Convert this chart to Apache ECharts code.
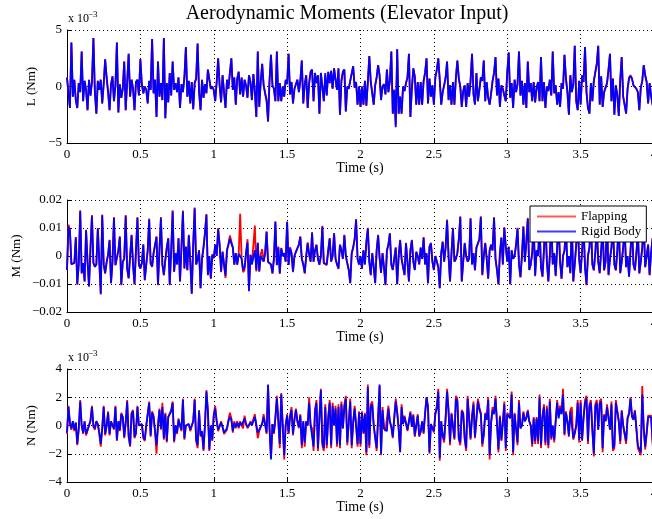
<!DOCTYPE html>
<html>
<head>
<meta charset="utf-8">
<script src="https://cdn.jsdelivr.net/npm/echarts@6/dist/echarts.min.js"></script>
<style>
  html, body { margin: 0; padding: 0; background: #fff; }
  #chart { width: 652px; height: 519px; }
</style>
</head>
<body>
<div id="chart"></div>
<script>
// Sampling interval of the recorded moments (s)
const SAMPLE_STEP = 0.01;

// Rolling moment L, in units of 1e-3 Nm
const L_flapping = [
  0.8, -0.6, -1.9, 3.9, -0.9, 0.6, -1.2, -1.9, 0.3, -0.5,
  3.1, -1.3, 0.5, -0.3, -2.1, 0.6, -0.8, 0.4, 4.3, -0.5,
  -2.4, 0.5, -0.3, 0.6, -1.5, 0.2, 2.4, 0.8, -0.5, -2.1,
  0.2, 0.9, -1.3, 0.1, 3.9, -2.3, 0.2, -1.0, -0.2, 2.2,
  -2.1, 0.4, 2.9, -0.9, 0.6, -0.2, -2.1, 0.4, 0.6, -0.8,
  2.4, 0.2, -0.6, 0.0, -0.3, -1.5, 0.5, -0.3, 4.2, -0.6,
  0.6, -2.7, 2.2, -0.9, 0.3, -1.2, 4.3, -2.8, 0.3, -1.4,
  1.2, -0.8, 2.2, -0.3, 0.3, -0.5, 0.8, -1.9, 0.2, -0.5,
  0.8, 3.5, -0.9, 0.5, -1.5, 0.4, -2.0, 0.3, 0.7, 3.8,
  -0.5, -2.1, 0.6, -1.0, 0.2, -0.6, 1.5, 0.6, -0.2, 0.0,
  -0.3, -1.3, 0.4, 2.5, 0.1, -1.4, 1.0, -0.5, -1.9, 0.6,
  -0.2, 1.2, 2.5, -0.3, 0.8, -1.6, 0.7, 1.3, -0.7, 0.8,
  -0.9, 0.6, 0.1, -1.0, 1.0, 0.4, -1.2, 1.1, -0.4, -2.7,
  3.1, -1.8, 0.4, 2.0, 0.1, -0.6, -1.1, -3.1, 0.5, 2.8,
  0.1, -0.2, -1.3, 3.1, -1.3, 0.3, -1.3, 0.0, -0.9, 0.6,
  0.4, 2.9, -0.7, 0.4, -1.5, -0.2, -0.3, 0.6, -0.5, 0.5,
  2.3, -1.5, 0.2, 1.0, -1.9, 0.3, 1.3, 1.5, -1.3, 1.2,
  0.3, 1.0, -2.4, 1.2, 1.1, -1.3, 1.0, -0.8, 1.3, 0.3,
  1.2, -0.2, 1.6, 0.6, -0.3, 1.6, -2.5, 0.5, 1.3, 1.5,
  -2.2, 0.0, -0.2, 0.5, 0.4, 1.8, -0.1, 0.4, -1.6, 0.0,
  -1.8, 0.0, -1.6, 0.5, -1.7, 0.4, 2.7, 0.4, 0.3, -1.6,
  0.1, 0.8, 1.9, 1.0, -1.2, 0.0, 0.2, -0.7, 1.5, -0.5,
  0.5, 3.1, -2.4, -0.3, -3.4, 3.3, -2.4, -0.9, -2.4, 0.0,
  -0.4, 0.3, 0.8, 2.9, -2.7, -0.2, 1.6, 0.9, -1.6, 0.4,
  -1.6, 0.4, -1.6, 0.5, 1.2, 2.5, -1.5, 0.7, -0.9, 0.1,
  -1.6, 0.8, 1.5, 2.5, 0.6, -1.6, -0.5, 0.1, 0.8, 2.2,
  -1.2, 0.1, -1.6, 0.4, -1.6, 0.8, 2.3, 0.7, 0.0, -1.8,
  -0.4, 0.1, -1.8, 0.3, -0.9, 0.5, 2.9, -0.7, -1.6, 1.2,
  -1.3, -0.3, 0.8, 0.5, 2.3, -1.3, 0.4, -1.0, -1.6, -0.6,
  0.5, 1.2, 2.6, -0.8, 0.7, -1.8, 0.1, -0.2, -0.8, -1.3,
  1.2, 3.0, -1.0, 0.3, -1.9, 0.6, -0.5, 0.2, 3.1, -0.8,
  0.5, -1.6, 0.3, -1.9, 2.2, -0.5, 0.3, -1.3, 0.4, -1.4,
  -0.1, 0.4, -1.3, 2.6, -1.3, 0.4, -1.9, 0.0, -0.4, 0.6,
  -0.8, 3.1, -0.6, 0.1, -1.6, -0.5, -1.8, 0.3, -0.2, 2.8,
  0.7, -0.5, -2.5, 1.0, -0.5, 0.2, 3.6, -1.3, -2.1, 0.5,
  -1.6, 1.0, 0.4, 3.5, -0.5, -1.9, -2.4, 0.3, -1.3, 0.5,
  0.6, 2.0, 3.6, -1.6, 0.9, -1.8, -0.5, -0.5, 0.3, 1.5,
  2.9, -1.3, 0.7, -2.5, 0.1, -0.8, -2.6, 0.6, 2.6, -0.9,
  -1.0, -2.4, -0.2, 0.8, 1.0, 0.7, 0.1, 0.0, -0.2, -0.5,
  -2.1, -0.1, 0.5, 1.9, 1.0, 0.4, -1.5, 0.3, -0.8, -1.6,
  -2.0
];
const L_rigid = [
  0.8, -0.6, -1.9, 3.9, -0.9, 0.6, -1.2, -1.9, 0.3, -0.5,
  3.1, -1.3, 0.5, -0.3, -2.1, 0.6, -0.8, 0.4, 4.3, -0.5,
  -2.4, 0.5, -0.3, 0.6, -1.5, 0.2, 2.4, 0.8, -0.5, -2.1,
  0.2, 0.9, -1.3, 0.1, 3.9, -2.3, 0.2, -1.0, -0.2, 2.2,
  -2.1, 0.4, 2.9, -0.9, 0.6, -0.2, -2.1, 0.4, 0.6, -0.8,
  2.4, 0.2, -0.6, 0.0, -0.3, -1.5, 0.5, -0.3, 4.2, -0.6,
  0.6, -2.7, 2.2, -0.9, 0.3, -1.2, 4.3, -2.8, 0.3, -1.4,
  1.2, -0.8, 2.2, -0.3, 0.3, -0.5, 0.8, -1.9, 0.2, -0.5,
  0.8, 3.5, -0.9, 0.5, -1.5, 0.4, -2.0, 0.3, 0.7, 3.8,
  -0.5, -2.1, 0.6, -1.0, 0.2, -0.6, 1.5, 0.6, -0.2, 0.0,
  -0.3, -1.3, 0.4, 2.5, 0.1, -1.4, 1.0, -0.5, -1.9, 0.6,
  -0.2, 1.2, 2.5, -0.3, 0.8, -1.6, 0.7, 1.3, -0.7, 0.8,
  -0.9, 0.6, 0.1, -1.0, 1.0, 0.4, -1.2, 1.1, -0.4, -2.7,
  3.1, -1.8, 0.4, 2.0, 0.1, -0.6, -1.3, -3.1, 0.5, 2.8,
  0.1, -0.2, -1.3, 3.1, -1.3, 0.3, -1.3, 0.0, -0.9, 0.6,
  0.2, 2.9, -0.7, 0.4, -1.5, -0.2, -0.3, 0.6, -0.5, 0.5,
  2.3, -1.5, 0.2, 1.0, -1.9, 0.3, 1.3, 1.5, -1.3, 1.2,
  0.3, 1.0, -2.4, 1.2, 1.1, -1.3, 1.2, -0.8, 1.3, 0.3,
  1.4, -0.2, 1.6, 0.6, -0.3, 1.6, -2.5, 0.5, 1.3, 1.5,
  -2.2, 0.0, -0.2, 0.5, 0.4, 1.8, -0.1, 0.4, -1.6, 0.0,
  -1.8, 0.0, -1.6, 0.5, -1.7, 0.4, 2.7, 0.4, 0.3, -1.6,
  0.1, 0.8, 1.9, 1.0, -1.2, 0.0, 0.2, -0.7, 1.5, -0.5,
  0.5, 3.1, -2.4, -0.3, -3.6, 3.3, -2.4, -0.9, -2.4, 0.0,
  -0.4, 0.3, 0.8, 2.9, -2.7, -0.2, 1.6, 0.9, -1.6, 0.4,
  -1.6, 0.4, -1.6, 0.5, 1.2, 2.5, -1.5, 0.7, -0.9, 0.1,
  -1.6, 0.8, 1.5, 2.5, 0.6, -1.6, -0.5, 0.1, 0.8, 2.2,
  -1.2, 0.1, -1.6, 0.4, -1.6, 0.8, 2.3, 0.7, 0.0, -1.8,
  -0.4, 0.1, -1.8, 0.3, -0.9, 0.5, 2.9, -0.7, -1.6, 1.2,
  -1.3, -0.3, 0.8, 0.5, 2.3, -1.3, 0.4, -1.0, -1.6, -0.6,
  0.5, 1.2, 2.6, -0.8, 0.7, -1.8, 0.1, -0.2, -0.8, -1.3,
  1.3, 3.0, -1.0, 0.3, -1.9, 0.6, -0.5, 0.2, 3.1, -0.8,
  0.5, -1.6, 0.3, -1.9, 2.2, -0.5, 0.3, -1.3, 0.4, -1.4,
  -0.1, 0.4, -1.3, 2.6, -1.3, 0.4, -1.9, 0.0, -0.4, 0.6,
  -0.8, 3.1, -0.6, 0.1, -1.6, -0.5, -1.8, 0.3, -0.2, 2.8,
  0.7, -0.5, -2.5, 1.0, -0.5, 0.2, 3.6, -1.3, -2.1, 0.5,
  -1.6, 1.0, 0.4, 3.5, -0.5, -1.9, -2.4, 0.3, -1.3, 0.5,
  0.6, 2.0, 3.6, -1.6, 0.9, -1.8, -0.5, -0.5, 0.3, 1.5,
  2.9, -1.3, 0.7, -2.5, 0.1, -0.8, -2.6, 0.6, 2.6, -0.9,
  -1.0, -2.4, -0.2, 0.7, 0.9, 0.7, 0.1, 0.0, -0.2, -0.5,
  -2.1, -0.1, 0.5, 1.9, 1.0, 0.4, -1.5, 0.3, -0.8, -1.6,
  -2.0
];

// Pitching moment M, in units of 1e-3 Nm
const M_flapping = [
  -5, 11.2, 9.3, -3, -3.6, -2.5, 6.8, -10.3, -3, 16.3,
  -6.3, -2.5, -9.2, 9.4, -2, -11, 3, 14.6, -2.5, -3.9,
  -3, 10, -2, -13.7, 14.8, -3, -6.3, -2.2, 0.5, 5.8,
  -9.8, -2, 13.9, -3.3, -2.6, 2, 7, -10.4, -2, -1,
  14.6, -4.6, -8, 0, 7.6, -3, -10.2, 2, 13.9, -3.3,
  -4.5, -2.5, 4.2, -8.7, -3, 2, 13.4, -2.7, -3.9, 1,
  1, 7, -10.4, 2, 13.9, -3, -6.9, -1.4, 3, 6.4,
  -10.4, 2, 16.3, -5.7, 1, -3, 6.4, -9.2, 3, 16.2,
  -4.5, 3.4, -5.2, 7.6, -2, -13.6, 4, 17.3, -3, -1.4,
  2, -11.6, -1, 3, 8.2, 15, -6.9, 0, -8.2, 0.5,
  -0.8, 4.2, 0, 10, 4.2, -5.8, 1.6, -3.1, -7.8, 2,
  4.3, 7.3, 5.2, 3, -3.2, 1, -3.2, 0.8, 15.1, -1,
  -5.8, -5, 1, 6, -12, 0.4, -3, -3.2, 10.9, -5.5,
  4.7, -5.5, 0.5, 2.5, -2, 1, 8.8, -2.2, -2.5, -3,
  -6.3, -1, 12.4, -3.3, 3.4, -6.4, 2.9, 0, 1, -2,
  12.3, -3.2, 3.2, 1, -5.8, 0, 1.5, 2, 4.2, 7,
  -1, -3, -6.3, 0, 4.9, 0.5, -2, 8.6, -2, 2,
  4, -1, -3.2, 0, 10.8, -2.6, -3, -3.3, 2, 6.4,
  -2, 0, 8.2, -1, -3, -4.6, 4, 2, -1, 7.6,
  0, -2.6, -5, -9.8, 1, 3, 6, 13.2, -1, -3,
  0, -4.6, 2, -3, 5, 10.1, -2, -6.9, 1, -4,
  -9.8, 2, 7.6, -0.5, -6, 1, -4, -10.4, 2, 4,
  8.2, -3, -5, -1, 3, -10.2, 0, 5.8, -1, -4,
  -6.9, 4.7, -2, -9.2, 2, 5.8, -2, -5, 1.5, 0,
  -3, 3, -1, 6.8, -3, 1, -9.8, 3.3, 4.7, -2,
  -5, 0, -2, -4, -11.6, 1, 5.2, -2, 3, 13,
  0, -9.2, 1, 10.1, -2, -1, 1, 6, 14.2, -9.2,
  -2, 4.7, 0, -2, -1, 13.6, -3, 1, -5.2, 3,
  3, 6, 14.2, -6.9, 0, 4.7, -1, -8.2, 2, 4,
  2, 13.9, -1, -5, -10.2, 1, 6.7, -3, 10.3, 3.3,
  -2, 3.4, -10.2, 2, -1, 0, 4, 10.1, -3, -7.7,
  0, 10.6, -2, 5, 13.6, -5, -3, 1, 12.2, -7.2,
  2, 0, 11.2, -4, -7.5, 2, 13.2, -2, -9.2, 0,
  13.2, -3, 1, -7.2, 3, 12.2, -2, -8.2, 0, 2,
  10.2, -4, 0, -6.2, 12.2, -9.2, -3, 4, 13.2, -1,
  -6.2, 2, 11.2, -4, -10.4, 0, 3, 12.2, -3, -5.2,
  1, 11.2, -2, -6.2, 2, 10.2, -5.2, -2, 13.2, -6.9,
  -1, 3, 11.2, -3, -5.2, 2, 12.2, -6.2, -2, 3,
  10.2, -4, 0, -7.5, 2, 11.2, -3, -5.2, 1, 9.2,
  -6.3, -2, 3, 12.2, -4, 0, 4.2, -6.9, 1, 6.4,
  -6.9
];
const M_rigid = [
  -5, 10.4, 9, -2.8, -3.5, -2.5, 6.6, -10, -3, 16,
  -6.1, -2.5, -9, 9.2, -2, -10.8, 3, 14.2, -2.5, -3.8,
  -3, 9.8, -2, -13.5, 14.5, -3, -6.1, -2.2, 0.5, 5.6,
  -9.6, -2, 13.6, -3.2, -2.6, 2, 6.8, -10.2, -2, -1,
  14.2, -4.5, -7.9, 0, 7.4, -3, -10, 2, 13.6, -3.2,
  -4.4, -2.5, 4.1, -8.5, -3, 2, 13, -2.6, -3.8, 1,
  1, 6.8, -10.2, 2, 13.5, -3, -6.7, -1.4, 3, 6.2,
  -10.2, 2, 15.9, -5.5, 1, -3, 6.2, -9, 3, 15.9,
  -4.4, 3.3, -5, 7.4, -2, -13.4, 4, 17, -3, -1.4,
  2, -11.4, -1, 3, 8, 14.7, -6.7, 0, -7.9, 0.5,
  -0.8, 4, 0, 9.5, 4, -5.5, 1.5, -3, -7, 2,
  4, 6.2, 4.5, 3, -3, 1, -3, 0.8, 1.5, -1,
  -5, -4, 1, 4.8, -12.6, 0.4, -3, -3.2, 2.1, -5,
  4.7, -5.5, 0, 0.5, -2, 1, 8.6, -2, -2.5, -3,
  -6.1, -1, 12.1, -3.2, 3, -6.1, 2.7, 0, 1, -2,
  12.1, -3.2, 2.7, 1, -5.5, 0, 1.5, 2, 4, 6.8,
  -1, -3, -6, 0, 4.5, 0.5, -2, 8.2, -2, 2,
  4, -1, -3, 0, 10.4, -2.5, -3, -2.9, 2, 6.2,
  -2, 0, 8, -1, -3, -4.4, 4, 2, -1, 7.4,
  0, -2.6, -5, -9.6, 1, 3, 6, 12.9, -1, -3,
  0, -4.4, 2, -3, 5, 9.8, -2, -6.7, 1, -4,
  -9.6, 2, 7.4, -0.5, -6, 1, -4, -10.2, 2, 4,
  8, -3, -5, -1, 3, -10, 0, 5.6, -1, -4,
  -6.7, 4.5, -2, -9, 2, 5.6, -2, -5, 1.5, 0,
  -3, 3, -1, 6.5, -3, 1, -9.6, 3.3, 4.5, -2,
  -5, 0, -2, -4, -11.4, 1, 5, -2, 3, 12.7,
  0, -9, 1, 9.8, -2, -1, 1, 6, 13.9, -9,
  -2, 4.5, 0, -2, -1, 13.3, -3, 1, -5, 3,
  3, 6, 13.9, -6.7, 0, 4.5, -1, -7.9, 2, 4,
  2, 13.6, -1, -5, -10, 1, 6.5, -3, 10, 3.3,
  -2, 3.3, -10, 2, -1, 0, 4, 9.8, -3, -7.5,
  0, 10.4, -2, 5, 13.3, -5, -3, 1, 12, -7,
  2, 0, 11, -4, -7.3, 2, 13, -2, -9, 0,
  13, -3, 1, -7, 3, 12, -2, -8, 0, 2,
  10, -4, 0, -6, 12, -9, -3, 4, 13, -1,
  -6, 2, 11, -4, -10.2, 0, 3, 12, -3, -5,
  1, 11, -2, -6, 2, 10, -5, -2, 13, -6.7,
  -1, 3, 11, -3, -5, 2, 12, -6, -2, 3,
  10, -4, 0, -7.3, 2, 11, -3, -5, 1, 9,
  -6.1, -2, 3, 12, -4, 0, 4, -6.7, 1, 6.2,
  -6.7
];

// Yawing moment N, in units of 1e-3 Nm
const N_flapping = [
  -0.6, 1.4, 0.1, -0.3, 0.3, -0.4, 0.2, -1.4, -0.3, 1.8,
  0.0, -0.6, 0.3, -0.7, -0.8, 0.0, 0.4, 1.4, -0.1, -0.3,
  0.3, 0.1, -0.6, -1.5, -0.2, 1.4, -0.7, 0.0, 1.0, -0.7,
  0.3, 0.0, -0.3, 1.4, -1.1, 0.3, -0.4, 0.9, 0.6, -0.9,
  0.2, 1.8, -0.8, -1.5, 0.9, 1.1, -0.9, -0.6, 1.4, 0.0,
  0.0, 0.1, -0.9, -1.1, 0.0, 0.0, 1.7, -0.8, 1.0, 0.7,
  -0.5, -2.0, 0.0, 1.2, -0.3, 1.6, -1.0, 0.9, -1.2, 0.6,
  0.6, 1.1, 1.7, -1.2, 0.0, -0.6, 0.5, 0.0, -0.4, 1.9,
  -1.0, 0.0, -0.1, 0.1, -0.4, -0.4, 0.3, 1.9, -1.1, -1.6,
  1.1, -0.8, -0.5, -1.8, 0.0, 2.5, 1.1, -1.8, 0.0, -1.1,
  0.8, 1.4, 0.3, -0.4, -0.4, 0.3, -0.1, -0.6, -0.5, -0.3,
  0.4, 0.9, 0.5, -0.5, 0.3, -0.2, 0.3, -0.2, 0.3, 0.0,
  -0.2, 0.7, 0.1, -0.2, 0.0, 0.3, 0.1, 0.0, 0.8, 0.8,
  -0.9, -0.4, -0.1, 0.2, 0.8, 0.9, -0.6, 2.8, -0.2, -2.3,
  0.1, -0.6, 0.6, 2.1, 0.3, -1.6, 2.3, 0.0, -2.4, 0.0,
  0.8, -0.6, 0.7, 1.3, -0.7, 0.5, 1.2, 0.3, -0.2, 0.8,
  -1.6, 0.3, -1.5, 0.3, 0.0, 2.0, 0.0, -0.2, -1.8, 1.1,
  1.8, -1.8, 0.6, 2.6, -1.4, -1.8, 1.5, -1.6, 0.6, 1.8,
  -1.6, 1.6, 0.0, 1.4, -1.5, 1.5, -1.6, 1.7, -0.2, 1.5,
  2.1, -1.4, 0.2, 1.9, -1.6, 0.2, 1.4, 0.0, -1.5, 1.0,
  -1.5, 1.0, -0.6, 0.9, -2.1, 2.9, -1.6, 1.5, 1.7, 0.0,
  0.0, -1.8, 0.6, 2.8, -2.1, 1.3, -0.2, -0.4, -0.5, 1.4,
  0.3, -0.1, -0.9, 0.6, 1.9, 1.0, -0.2, -1.8, 1.5, 0.1,
  0.7, 0.6, -0.4, -0.5, 1.0, -0.1, 0.8, -0.8, 0.0, 0.8,
  -0.8, -0.5, 0.3, -0.6, 0.9, 2.0, 1.4, -2.0, 0.1, -0.2,
  -0.5, 0.9, 1.4, 2.6, -2.5, 0.3, -0.8, -1.2, 0.6, 2.6,
  1.1, -1.4, 0.9, 1.0, -1.0, 2.1, 1.9, -1.0, -1.4, 1.1,
  0.9, -1.0, -1.8, 2.1, 2.0, -1.0, 0.7, 1.7, -0.9, -0.8,
  1.9, 1.3, 0.9, -1.5, -0.7, 0.9, 0.5, 2.0, -2.4, 0.2,
  1.3, 0.9, 2.1, 0.2, -1.9, 0.7, -1.1, 0.2, 1.7, -1.8,
  0.9, 1.0, 0.6, 2.4, -2.1, 0.9, 1.0, -1.4, 1.8, -0.2,
  0.0, 1.0, 0.3, 0.6, 1.1, 0.3, 0.0, -1.5, 0.6, -1.3,
  0.6, -1.3, 2.2, -1.6, 0.7, 1.5, -1.4, 1.4, -1.6, 1.9,
  -1.0, 0.0, -1.2, 0.3, 1.8, 0.6, 1.4, 0.9, 2.6, -0.7,
  1.0, 0.3, -0.8, 1.1, 1.3, -1.0, -0.6, 0.0, 1.8, -1.2,
  1.8, -1.1, 0.6, 1.8, 2.1, -1.3, 1.5, 1.8, -0.3, -2.2,
  1.5, 1.8, -0.3, 1.7, 1.9, -1.9, 0.8, 0.3, 1.5, 0.6,
  -0.3, 1.7, -1.8, -1.6, 1.8, 1.9, 0.3, -1.3, 1.1, 0.0,
  0.0, -1.3, 0.6, 0.9, 2.0, 0.7, 0.5, 1.1, 1.1, -1.6,
  -1.6, -2.1, 2.8, -0.2, -1.7, -0.6, 0.7, 0.6, 0.7, -1.2,
  -2.6
];
const N_rigid = [
  -0.5, 1.3, 0.2, -0.2, 0.3, -0.3, 0.2, -1.3, -0.2, 1.7,
  0.0, -0.5, 0.3, -0.6, -0.7, 0.0, 0.3, 1.3, 0.0, -0.2,
  0.3, 0.1, -0.5, -1.3, -0.2, 1.3, -0.6, 0.0, 0.9, -0.6,
  0.3, 0.0, -0.2, 1.3, -1.0, 0.3, -0.3, 0.8, 0.6, -0.8,
  0.2, 1.7, -0.7, -1.4, 0.8, 1.0, -0.8, -0.5, 1.3, 0.0,
  0.0, 0.1, -0.8, -1.0, 0.0, 0.0, 1.6, -0.7, 0.9, 0.6,
  -0.4, -1.4, 0.0, 1.1, -0.2, 1.3, -0.9, 0.8, -1.1, 0.6,
  0.6, 1.0, 1.6, -1.1, 0.0, -0.5, 0.4, 0.0, -0.3, 1.8,
  -0.9, 0.0, -0.1, 0.1, -0.3, -0.3, 0.3, 1.8, -1.0, -1.4,
  1.0, -0.7, -0.4, -1.7, 0.0, 2.4, 1.0, -1.7, 0.0, -1.0,
  0.7, 1.2, 0.3, -0.3, -0.3, 0.2, -0.1, -0.5, -0.4, -0.2,
  0.3, 0.6, 0.4, -0.4, 0.2, -0.1, 0.2, -0.1, 0.2, 0.0,
  -0.1, 0.5, 0.1, -0.1, 0.0, 0.2, 0.0, 0.0, 0.6, 0.7,
  -0.5, -0.3, -0.1, 0.1, 0.6, 0.7, -0.5, 2.9, -0.2, -2.4,
  0.1, -0.5, 0.5, 1.9, 0.3, -1.3, 2.2, 0.0, -2.1, 0.0,
  0.7, -0.5, 0.6, 1.1, -0.6, 0.4, 1.1, 0.3, -0.1, 0.7,
  -1.4, 0.3, -1.2, 0.3, 0.0, 1.6, 0.0, -0.1, -1.5, 1.0,
  1.6, -1.6, 0.5, 2.5, -1.2, -1.6, 1.3, -1.4, 0.5, 1.6,
  -1.4, 1.4, 0.0, 1.2, -1.3, 1.3, -1.4, 1.5, -0.2, 1.3,
  1.9, -1.2, 0.2, 1.7, -1.4, 0.2, 1.2, 0.0, -1.3, 0.9,
  -1.3, 0.9, -0.5, 0.8, -1.9, 2.7, -1.4, 1.3, 1.5, 0.0,
  0.0, -1.6, 0.5, 2.9, -2.0, 1.1, -0.2, -0.3, -0.4, 1.2,
  0.3, -0.1, -0.8, 0.5, 1.7, 0.9, -0.2, -1.9, 1.3, 0.1,
  0.6, 0.5, -0.3, -0.4, 0.9, -0.1, 0.7, -0.7, 0.0, 0.7,
  -0.7, -0.4, 0.3, -0.5, 0.8, 2.0, 1.2, -1.9, 0.1, -0.2,
  -0.4, 0.8, 1.2, 2.4, -2.3, 0.3, -0.7, -1.0, 0.5, 2.4,
  1.0, -1.2, 0.8, 0.9, -0.9, 1.9, 1.7, -0.9, -1.2, 1.0,
  0.8, -0.9, -1.6, 1.9, 1.8, -0.9, 0.6, 1.5, -0.8, -0.7,
  1.7, 1.1, 0.8, -1.3, -0.6, 0.8, 0.4, 1.8, -2.1, 0.2,
  1.1, 0.8, 1.9, 0.2, -1.7, 0.6, -1.0, 0.2, 1.5, -1.6,
  0.8, 0.9, 0.5, 2.2, -1.9, 0.8, 0.9, -1.2, 1.6, -0.2,
  0.0, 0.9, 0.3, 0.5, 1.0, 0.3, 0.0, -1.3, 0.5, -1.1,
  0.5, -1.1, 2.0, -1.4, 0.6, 1.3, -1.2, 1.2, -1.4, 1.7,
  -0.9, 0.0, -1.0, 0.3, 1.6, 0.5, 1.2, 0.8, 2.2, -0.6,
  0.9, 0.3, -0.7, 1.0, 1.1, -0.9, -0.5, 0.0, 1.6, -1.0,
  1.6, -1.0, 0.5, 1.6, 1.9, -1.1, 1.3, 1.6, -0.3, -2.0,
  1.3, 1.6, -0.3, 1.5, 1.7, -1.6, 0.7, 0.3, 1.3, 0.5,
  -0.3, 1.5, -1.6, -1.4, 1.6, 1.7, 0.3, -1.1, 1.0, 0.0,
  0.0, -1.1, 0.5, 0.8, 1.9, 0.6, 0.4, 1.0, 1.0, -1.4,
  -1.4, -1.9, 2.2, -0.2, -1.5, -0.5, 0.6, 0.5, 0.6, -1.0,
  -2.3
];

// Axis tick values
const timeTicks = [0, 0.5, 1, 1.5, 2, 2.5, 3, 3.5, 4];
const lTicks = [-5, 0, 5];
const mTicks = [-20, -10, 0, 10, 20];
const nTicks = [-4, -2, 0, 2, 4];

const SERIF = '"Liberation Serif", "Times New Roman", serif';
const pairs = vals => vals.map((v, i) => [Math.round(i * SAMPLE_STEP * 100) / 100, v]);
const minus = s => String(s).replace('-', '\u2212');

const panels = [
  { top: 30,  height: 113, ticks: lTicks, fmt: v => minus(v),
    flap: L_flapping, rigid: L_rigid, ylabel: 'L (Nm)', ylabelX: 32, scaled: true },
  { top: 200, height: 112, ticks: mTicks, fmt: v => minus(+(v / 1000).toFixed(2)),
    flap: M_flapping, rigid: M_rigid, ylabel: 'M (Nm)', ylabelX: 16.5, scaled: false },
  { top: 369, height: 113, ticks: nTicks, fmt: v => minus(v),
    flap: N_flapping, rigid: N_rigid, ylabel: 'N (Nm)', ylabelX: 32, scaled: true }
];

const GRID_LEFT = 67, GRID_WIDTH = 587;
const dotted = { type: [1, 3], color: '#000', width: 1 };

const grid = [], xAxis = [], yAxis = [], series = [], graphic = [];

graphic.push({
  type: 'text', x: 347, y: 4, silent: true,
  style: { text: 'Aerodynamic Moments (Elevator Input)', fill: '#000',
           font: '20px ' + SERIF, textAlign: 'center', textVerticalAlign: 'top',
           align: 'center', verticalAlign: 'top' }
});

panels.forEach((p, k) => {
  grid.push({ left: GRID_LEFT, top: p.top, width: GRID_WIDTH, height: p.height,
              containLabel: false, outerBoundsMode: 'none' });
  xAxis.push({
    gridIndex: k, type: 'value',
    min: timeTicks[0], max: timeTicks[timeTicks.length - 1], interval: timeTicks[1] - timeTicks[0],
    axisLine: { show: true, onZero: false, lineStyle: { color: '#000', width: 1 } },
    axisTick: { show: true, inside: true, length: 4, lineStyle: { color: '#000' } },
    axisLabel: { color: '#000', fontFamily: SERIF, fontSize: 13, margin: 5,
                 showMinLabel: true, showMaxLabel: true, hideOverlap: false, formatter: v => String(v) },
    splitLine: { show: true, lineStyle: dotted }
  });
  yAxis.push({
    gridIndex: k, type: 'value',
    min: p.ticks[0], max: p.ticks[p.ticks.length - 1], interval: p.ticks[1] - p.ticks[0],
    axisLine: { show: true, onZero: false, lineStyle: { color: '#000', width: 1 } },
    axisTick: { show: true, inside: true, length: 4, lineStyle: { color: '#000' } },
    axisLabel: { color: '#000', fontFamily: SERIF, fontSize: 13, margin: 5, formatter: p.fmt },
    splitLine: { show: true, lineStyle: dotted }
  });
  series.push({
    name: 'Flapping', type: 'line', xAxisIndex: k, yAxisIndex: k,
    data: pairs(p.flap), showSymbol: false, symbol: 'none', silent: true,
    lineStyle: { color: '#ff0000', width: 1.8 }, itemStyle: { color: '#ff0000' }, z: 2
  });
  series.push({
    name: 'Rigid Body', type: 'line', xAxisIndex: k, yAxisIndex: k,
    data: pairs(p.rigid), showSymbol: false, symbol: 'none', silent: true,
    lineStyle: { color: '#0000ff', width: 1.8 }, itemStyle: { color: '#0000ff' }, z: 3
  });

  // vertical axis caption
  graphic.push({
    type: 'text', x: p.ylabelX, y: p.top + p.height / 2, rotation: Math.PI / 2, silent: true,
    style: { text: p.ylabel, fill: '#000', font: '13px ' + SERIF,
             textAlign: 'center', textVerticalAlign: 'middle', align: 'center', verticalAlign: 'middle' }
  });
  // time caption
  graphic.push({
    type: 'text', x: 360, y: p.top + p.height + 25, silent: true,
    style: { text: 'Time (s)', fill: '#000', font: '14px ' + SERIF,
             textAlign: 'center', textVerticalAlign: 'middle', align: 'center', verticalAlign: 'middle' }
  });
  // exponent marker for the 1e-3 scaled axes
  if (p.scaled) {
    graphic.push({
      type: 'text', x: 68, y: p.top - 11, silent: true,
      style: { text: 'x 10', fill: '#000', font: '12px ' + SERIF,
               textAlign: 'left', textVerticalAlign: 'middle', align: 'left', verticalAlign: 'middle' }
    });
    graphic.push({
      type: 'text', x: 88, y: p.top - 15, silent: true,
      style: { text: '\u22123', fill: '#000', font: '9px ' + SERIF,
               textAlign: 'left', textVerticalAlign: 'middle', align: 'left', verticalAlign: 'middle' }
    });
  }
});

const chart = echarts.init(document.getElementById('chart'), null, { renderer: 'canvas' });
chart.setOption({
  animation: false,
  backgroundColor: '#fff',
  grid, xAxis, yAxis, series, graphic,
  legend: {
    data: [
      { name: 'Flapping', icon: 'rect', itemStyle: { color: '#ff5a5a' } },
      { name: 'Rigid Body', icon: 'rect', itemStyle: { color: '#3c3cff' } }
    ],
    orient: 'vertical', left: 530, top: 206,
    itemWidth: 39, itemHeight: 2, itemGap: 2,
    padding: [4, 5, 4, 7],
    backgroundColor: '#fff', borderColor: '#000', borderWidth: 1, borderRadius: 0,
    selectedMode: false, z: 20,
    textStyle: { fontFamily: SERIF, fontSize: 13, color: '#000', lineHeight: 13 }
  }
});
</script>
</body>
</html>
